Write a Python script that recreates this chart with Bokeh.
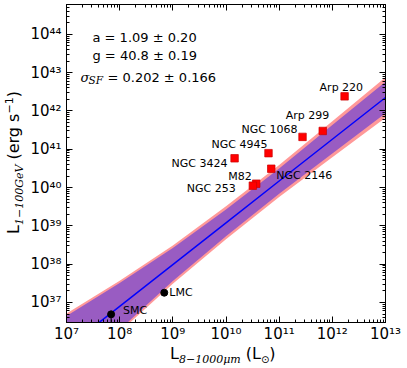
import numpy as np
from bokeh.plotting import figure
from bokeh.layouts import row, column
from bokeh.models import (Range1d, FixedTicker, LogAxis, CustomJSTickFormatter,
                          Label, ColumnDataSource, Div)
from bokeh.core.properties import value
from bokeh.embed import file_html
from bokeh.resources import INLINE

# ---------------- data ----------------
band_logx = [7, 8, 9, 10, 11, 12, 13]
fit_logy = [35.81, 36.90, 37.99, 39.08, 40.17, 41.26, 42.35]
outer_hi = [36.71, 37.57, 38.49, 39.51, 40.59, 41.73, 42.88]
outer_lo = [34.91, 36.23, 37.49, 38.65, 39.75, 40.79, 41.82]
inner_hi = [36.65, 37.51, 38.42, 39.43, 40.50, 41.63, 42.76]
inner_lo = [34.97, 36.29, 37.56, 38.73, 39.84, 40.89, 41.94]

gal_names = ["Arp 220", "Arp 299", "NGC 1068", "NGC 4945", "NGC 3424",
             "M82", "NGC 253", "NGC 2146"]
gal_lir = [1.7e12, 6.6e11, 2.75e11, 6.3e10, 1.45e10, 3.7e10, 3.2e10, 7.1e10]
gal_lg = [2.4e42, 3.0e41, 2.1e41, 7.9e40, 5.8e40, 1.26e40, 1.12e40, 3.1e40]

mc_names = ["LMC", "SMC"]
mc_lir = [6.9e8, 6.9e7]
mc_lg = [1.8e37, 4.9e36]
mc_lg_low = [1.8e37, 2.0e36]

x_tick_exp = [7, 8, 9, 10, 11, 12, 13]
y_tick_exp = [37, 38, 39, 40, 41, 42, 43, 44]

fit_text = ["a = 1.09 \u00b1 0.20", "g = 40.8 \u00b1 0.19", "= 0.202 \u00b1 0.166"]

# ---------------- styling / layout ----------------
gal_dx = [-25, -37, -61, -57, -63, -28, -66, 5]
gal_dy = [-9, -15, -7, -9, 5, -7, 3, 7]
mc_dx = [5, 12]
mc_dy = [0, -4]

YLAB_W = 24                         # width of the y-label strip
FRAME_L, FRAME_B = 66, 322          # page px of frame left / bottom
PX_DEC_X, PX_DEC_Y = 53.2, 38.3
Y0, Y1 = 3e36, 6e44


def px_x(px):
    return 10 ** (7 + (px - FRAME_L) / PX_DEC_X)


def px_y(py):
    return 10 ** (np.log10(Y0) + (FRAME_B - py) / PX_DEC_Y)


p = figure(width=407 - YLAB_W, height=346, x_axis_type="log", y_axis_type="log",
           x_range=Range1d(1e7, 1e13), y_range=Range1d(Y0, Y1),
           output_backend="svg", toolbar_location=None,
           min_border_left=FRAME_L - YLAB_W, min_border_right=22,
           min_border_top=4, min_border_bottom=24)
p.xgrid.visible = False
p.ygrid.visible = False
p.outline_line_color = "black"
p.outline_line_alpha = 1.0
p.outline_line_width = 1
p.background_fill_color = "white"
p.border_fill_color = "white"

bx = [10 ** v for v in band_logx]
p.varea(x=bx, y1=[10 ** v for v in outer_lo], y2=[10 ** v for v in outer_hi],
        fill_color="#ff9999", fill_alpha=1.0)
p.varea(x=bx, y1=[10 ** v for v in inner_lo], y2=[10 ** v for v in inner_hi],
        fill_color="#995cc2", fill_alpha=1.0)
p.line(x=bx, y=[10 ** v for v in fit_logy], line_color="#0000ff", line_width=1.5)

p.segment(x0=mc_lir, x1=mc_lir, y0=mc_lg_low, y1=mc_lg, line_color="black",
          line_width=1)

gsrc = ColumnDataSource(dict(x=gal_lir, y=gal_lg, name=gal_names,
                             dx=gal_dx, dy=gal_dy))
p.scatter("x", "y", source=gsrc, marker="square", size=7.5,
          fill_color="#ff0000", line_color="#cc0000", line_width=0.7)
p.text("x", "y", text="name", source=gsrc, x_offset="dx", y_offset="dy",
       text_font=value("DejaVu Sans"), text_font_size="11px",
       text_baseline="middle", text_align="left", text_color="black")

msrc = ColumnDataSource(dict(x=mc_lir, y=mc_lg, name=mc_names, dx=mc_dx, dy=mc_dy))
p.scatter("x", "y", source=msrc, marker="circle", size=7,
          fill_color="black", line_color="black")
p.text("x", "y", text="name", source=msrc, x_offset="dx", y_offset="dy",
       text_font=value("DejaVu Sans"), text_font_size="11px",
       text_baseline="middle", text_align="left", text_color="black")

# ---------------- axes ----------------
fmt = CustomJSTickFormatter(code="""
const sup = {"0":"\u2070","1":"\u00b9","2":"\u00b2","3":"\u00b3","4":"\u2074",
             "5":"\u2075","6":"\u2076","7":"\u2077","8":"\u2078","9":"\u2079","-":"\u207b"};
const e = Math.round(Math.log10(tick));
return "10" + String(e).split("").map(c => sup[c]).join("");
""")

x_major = [10.0 ** e for e in x_tick_exp]
x_minor = [m * 10.0 ** e for e in range(7, 13) for m in range(2, 10)]
y_major = [10.0 ** e for e in y_tick_exp]
y_minor = [m * 10.0 ** e for e in range(36, 45) for m in range(2, 10)
           if Y0 <= m * 10.0 ** e <= Y1]
xt = FixedTicker(ticks=x_major, minor_ticks=x_minor)
yt = FixedTicker(ticks=y_major, minor_ticks=y_minor)

bottom = p.below[0]
left = p.left[0]
top = LogAxis(ticker=xt)
right = LogAxis(ticker=yt)
p.add_layout(top, "above")
p.add_layout(right, "right")

bottom.ticker = xt
left.ticker = yt
for ax in [bottom, left, top, right]:
    ax.axis_line_color = "black"
    ax.major_tick_in = 6
    ax.major_tick_out = 0
    ax.minor_tick_in = 3
    ax.minor_tick_out = 0
    ax.major_tick_line_color = "black"
    ax.minor_tick_line_color = "black"
    ax.formatter = fmt
    ax.major_label_text_font = "DejaVu Sans"
    ax.major_label_text_color = "black"
for ax in [bottom, left]:
    ax.major_label_text_font_size = "15px"
bottom.major_label_standoff = 2
left.major_label_standoff = 5
for ax in [top, right]:
    ax.major_label_text_font_size = "1px"
    ax.major_label_text_alpha = 0.0
    ax.major_label_standoff = 0


# ---------------- texts in the plot ----------------
def add_label(text, px, py, size, font="DejaVu Sans", style="normal"):
    p.add_layout(Label(x=px_x(px), y=px_y(py), text=text, text_font=font,
                       text_font_size=size, text_font_style=style,
                       text_baseline="alphabetic", text_align="left",
                       text_color="black"))


add_label(fit_text[0], 92, 37, "13px")
add_label(fit_text[1], 92, 55, "13px")
add_label("\u03c3", 80, 77, "13px", font="DejaVu Serif", style="italic")
add_label("SF", 88, 80, "10.5px", font="DejaVu Serif", style="italic")
add_label(fit_text[2], 107, 77, "13px")

# ---------------- axis titles (HTML text with sub/superscripts) ----------------
SUB = "font-family:'DejaVu Serif';font-style:italic;font-size:11px;vertical-align:-4px"
MAIN = "font-family:'DejaVu Sans';font-size:16px;line-height:16px;color:black;white-space:nowrap"

ylab_html = (
    f'<div style="position:relative;left:1.5px;top:234px;transform-origin:0 0;'
    f'transform:rotate(-90deg);{MAIN}">'
    f'L<span style="{SUB}">1\u2212100GeV</span> (erg s'
    f'<span style="font-size:11px;vertical-align:6px">\u22121</span>)</div>'
)
xlab_html = (
    f'<div style="padding-left:{170 - YLAB_W}px;{MAIN}">'
    f'L<span style="{SUB}">8\u22121000\u03bcm</span> (L'
    f'<span style="font-size:10px;vertical-align:-4px">\u2299</span>)</div>'
)

ydiv = Div(text=ylab_html, width=YLAB_W, height=368, margin=0)
xdiv = Div(text=xlab_html, width=407 - YLAB_W, height=22, margin=0)

layout = row(ydiv, column(p, xdiv, spacing=0), spacing=0)

open("out.html", "w").write(file_html(layout, INLINE))
